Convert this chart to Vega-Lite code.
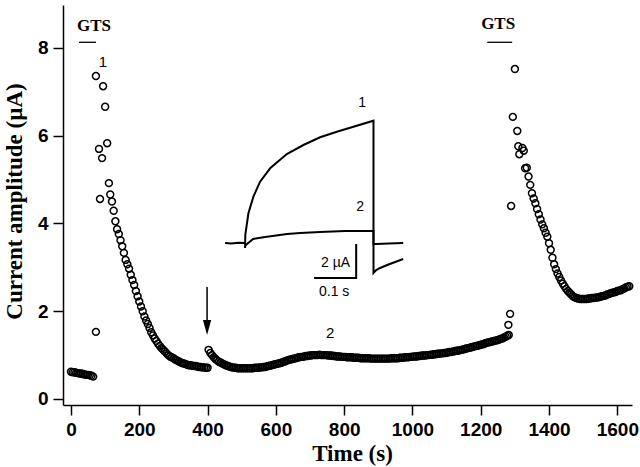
{
  "$schema": "https://vega.github.io/schema/vega-lite/v6.json",
  "width": 569,
  "height": 400,
  "autosize": "none",
  "padding": {"left": 63, "top": 5, "right": 8, "bottom": 62},
  "background": "white",
  "config": {
    "view": {"stroke": null},
    "axis": {
      "grid": false,
      "domainColor": "black",
      "domainWidth": 1.5,
      "tickColor": "black",
      "tickWidth": 1.5,
      "tickSize": 10,
      "labelFont": "Liberation Sans",
      "labelFontWeight": "bold",
      "labelFontSize": 19,
      "labelColor": "black",
      "titleFont": "Liberation Serif",
      "titleFontWeight": "bold",
      "titleFontSize": 23,
      "titleColor": "black"
    }
  },
  "datasets": {
    "pts": [
      {"t":0,"v":0.62},{"t":5,"v":0.61},{"t":10,"v":0.61},{"t":15,"v":0.60},{"t":20,"v":0.59},{"t":25,"v":0.58},{"t":30,"v":0.58},{"t":35,"v":0.57},{"t":40,"v":0.56},{"t":45,"v":0.55},{"t":50,"v":0.55},{"t":55,"v":0.54},{"t":60,"v":0.53},{"t":65,"v":0.51},
      {"t":73,"v":1.53},{"t":73,"v":7.36},{"t":94,"v":7.13},{"t":100,"v":6.66},{"t":106,"v":5.83},{"t":82,"v":5.70},{"t":91,"v":5.49},{"t":111,"v":4.92},{"t":85,"v":4.56},
      {"t":115,"v":4.66},{"t":120,"v":4.50},{"t":125,"v":4.29},{"t":130,"v":4.05},{"t":135,"v":3.87},{"t":140,"v":3.76},{"t":145,"v":3.62},{"t":150,"v":3.48},{"t":155,"v":3.33},{"t":160,"v":3.17},{"t":165,"v":3.07},{"t":170,"v":2.97},{"t":175,"v":2.83},{"t":180,"v":2.71},{"t":185,"v":2.60},{"t":190,"v":2.46},{"t":195,"v":2.34},{"t":200,"v":2.22},{"t":205,"v":2.11},{"t":210,"v":2.00},{"t":215,"v":1.88},{"t":220,"v":1.79},{"t":225,"v":1.71},{"t":230,"v":1.62},{"t":235,"v":1.52},{"t":240,"v":1.45},{"t":245,"v":1.38},{"t":250,"v":1.32},{"t":255,"v":1.26},{"t":260,"v":1.21},{"t":265,"v":1.16},{"t":270,"v":1.12},{"t":275,"v":1.08},{"t":280,"v":1.04},{"t":285,"v":1.00},{"t":290,"v":0.97},{"t":295,"v":0.95},{"t":300,"v":0.93},{"t":305,"v":0.90},{"t":310,"v":0.88},{"t":315,"v":0.86},{"t":320,"v":0.84},{"t":325,"v":0.82},{"t":330,"v":0.81},{"t":335,"v":0.80},{"t":340,"v":0.78},{"t":345,"v":0.77},{"t":350,"v":0.77},{"t":355,"v":0.76},{"t":360,"v":0.75},{"t":365,"v":0.75},{"t":370,"v":0.74},{"t":375,"v":0.73},{"t":380,"v":0.73},{"t":385,"v":0.72},{"t":390,"v":0.72},{"t":395,"v":0.71},{"t":400,"v":0.71},
      {"t":403,"v":1.12},{"t":408,"v":1.05},{"t":413,"v":1.00},{"t":418,"v":0.95},{"t":423,"v":0.91},{"t":428,"v":0.88},{"t":433,"v":0.85},{"t":438,"v":0.83},{"t":443,"v":0.81},{"t":448,"v":0.79},{"t":453,"v":0.77},{"t":458,"v":0.76},{"t":463,"v":0.74},{"t":468,"v":0.73},{"t":473,"v":0.72},{"t":478,"v":0.71},{"t":483,"v":0.71},{"t":488,"v":0.70},{"t":493,"v":0.70},{"t":498,"v":0.70},{"t":503,"v":0.70},{"t":508,"v":0.70},{"t":513,"v":0.70},{"t":518,"v":0.70},{"t":523,"v":0.70},{"t":528,"v":0.70},{"t":533,"v":0.70},{"t":538,"v":0.71},{"t":543,"v":0.71},{"t":548,"v":0.71},{"t":553,"v":0.72},{"t":558,"v":0.72},{"t":563,"v":0.73},{"t":568,"v":0.73},{"t":573,"v":0.74},{"t":578,"v":0.75},{"t":583,"v":0.76},{"t":588,"v":0.77},{"t":593,"v":0.78},{"t":598,"v":0.79},{"t":603,"v":0.80},{"t":608,"v":0.81},{"t":613,"v":0.82},{"t":618,"v":0.83},{"t":623,"v":0.85},{"t":628,"v":0.86},{"t":633,"v":0.88},{"t":638,"v":0.89},{"t":643,"v":0.90},{"t":648,"v":0.91},{"t":653,"v":0.92},{"t":658,"v":0.93},{"t":663,"v":0.94},{"t":668,"v":0.95},{"t":673,"v":0.96},{"t":678,"v":0.96},{"t":683,"v":0.97},{"t":688,"v":0.98},{"t":693,"v":0.98},{"t":698,"v":0.99},{"t":703,"v":0.99},{"t":708,"v":1.00},{"t":713,"v":1.00},{"t":718,"v":1.00},{"t":723,"v":1.00},{"t":728,"v":1.01},{"t":733,"v":1.00},{"t":738,"v":1.00},{"t":743,"v":1.00},{"t":748,"v":1.00},{"t":753,"v":0.99},{"t":758,"v":0.99},{"t":763,"v":0.99},{"t":768,"v":0.98},{"t":773,"v":0.98},{"t":778,"v":0.97},{"t":783,"v":0.97},{"t":788,"v":0.97},{"t":793,"v":0.96},{"t":798,"v":0.96},{"t":803,"v":0.96},{"t":808,"v":0.95},{"t":813,"v":0.95},{"t":818,"v":0.95},{"t":823,"v":0.95},{"t":828,"v":0.94},{"t":833,"v":0.94},{"t":838,"v":0.94},{"t":843,"v":0.94},{"t":848,"v":0.93},{"t":853,"v":0.93},{"t":858,"v":0.93},{"t":863,"v":0.93},{"t":868,"v":0.93},{"t":873,"v":0.93},{"t":878,"v":0.92},{"t":883,"v":0.92},{"t":888,"v":0.92},{"t":893,"v":0.92},{"t":898,"v":0.92},{"t":903,"v":0.92},{"t":908,"v":0.92},{"t":913,"v":0.92},{"t":918,"v":0.92},{"t":923,"v":0.92},{"t":928,"v":0.92},{"t":933,"v":0.92},{"t":938,"v":0.93},{"t":943,"v":0.93},{"t":948,"v":0.93},{"t":953,"v":0.93},{"t":958,"v":0.93},{"t":963,"v":0.94},{"t":968,"v":0.94},{"t":973,"v":0.94},{"t":978,"v":0.95},{"t":983,"v":0.95},{"t":988,"v":0.95},{"t":993,"v":0.96},{"t":998,"v":0.96},{"t":1003,"v":0.97},{"t":1008,"v":0.97},{"t":1013,"v":0.97},{"t":1018,"v":0.98},{"t":1023,"v":0.98},{"t":1028,"v":0.99},{"t":1033,"v":0.99},{"t":1038,"v":0.99},{"t":1043,"v":1.00},{"t":1048,"v":1.00},{"t":1053,"v":1.01},{"t":1058,"v":1.01},{"t":1063,"v":1.02},{"t":1068,"v":1.02},{"t":1073,"v":1.03},{"t":1078,"v":1.03},{"t":1083,"v":1.04},{"t":1088,"v":1.04},{"t":1093,"v":1.05},{"t":1098,"v":1.05},{"t":1103,"v":1.06},{"t":1108,"v":1.07},{"t":1113,"v":1.07},{"t":1118,"v":1.08},{"t":1123,"v":1.09},{"t":1128,"v":1.10},{"t":1133,"v":1.10},{"t":1138,"v":1.11},{"t":1143,"v":1.12},{"t":1148,"v":1.13},{"t":1153,"v":1.14},{"t":1158,"v":1.15},{"t":1163,"v":1.16},{"t":1168,"v":1.17},{"t":1173,"v":1.18},{"t":1178,"v":1.19},{"t":1183,"v":1.20},{"t":1188,"v":1.21},{"t":1193,"v":1.22},{"t":1198,"v":1.23},{"t":1203,"v":1.24},{"t":1208,"v":1.25},{"t":1213,"v":1.27},{"t":1218,"v":1.28},{"t":1223,"v":1.29},{"t":1228,"v":1.30},{"t":1233,"v":1.31},{"t":1238,"v":1.32},{"t":1243,"v":1.33},{"t":1248,"v":1.34},{"t":1253,"v":1.35},{"t":1258,"v":1.37},{"t":1263,"v":1.38},{"t":1268,"v":1.40},{"t":1273,"v":1.42},{"t":1278,"v":1.44},{"t":1282,"v":1.46},
      {"t":1281,"v":1.69},{"t":1286,"v":1.94},
      {"t":1289,"v":4.40},{"t":1300,"v":7.52},{"t":1294,"v":6.43},{"t":1307,"v":6.11},{"t":1310,"v":5.76},{"t":1322,"v":5.72},{"t":1313,"v":5.58},{"t":1326,"v":5.66},{"t":1330,"v":5.26},{"t":1335,"v":5.27},
      {"t":1340,"v":5.07},{"t":1345,"v":4.88},{"t":1350,"v":4.69},{"t":1355,"v":4.57},{"t":1360,"v":4.46},{"t":1365,"v":4.33},{"t":1370,"v":4.21},{"t":1375,"v":4.09},{"t":1380,"v":3.98},{"t":1385,"v":3.89},{"t":1390,"v":3.79},{"t":1395,"v":3.70},{"t":1400,"v":3.55},{"t":1405,"v":3.40},{"t":1410,"v":3.22},{"t":1415,"v":3.07},{"t":1420,"v":2.96},{"t":1425,"v":2.86},{"t":1430,"v":2.78},{"t":1435,"v":2.70},{"t":1440,"v":2.63},{"t":1445,"v":2.57},{"t":1450,"v":2.51},{"t":1455,"v":2.46},{"t":1460,"v":2.42},{"t":1465,"v":2.38},{"t":1470,"v":2.34},{"t":1475,"v":2.32},{"t":1480,"v":2.30},{"t":1485,"v":2.29},{"t":1490,"v":2.28},{"t":1495,"v":2.28},{"t":1500,"v":2.28},{"t":1505,"v":2.28},{"t":1510,"v":2.28},{"t":1515,"v":2.29},{"t":1520,"v":2.29},{"t":1525,"v":2.30},{"t":1530,"v":2.30},{"t":1535,"v":2.31},{"t":1540,"v":2.31},{"t":1545,"v":2.32},{"t":1550,"v":2.33},{"t":1555,"v":2.34},{"t":1560,"v":2.35},{"t":1565,"v":2.36},{"t":1570,"v":2.38},{"t":1575,"v":2.39},{"t":1580,"v":2.41},{"t":1585,"v":2.42},{"t":1590,"v":2.43},{"t":1595,"v":2.44},{"t":1600,"v":2.46},{"t":1605,"v":2.47},{"t":1610,"v":2.48},{"t":1615,"v":2.50},{"t":1620,"v":2.52},{"t":1625,"v":2.54},{"t":1630,"v":2.56},{"t":1635,"v":2.57}
    ],
    "traces": [
      {"s":"1","i":0,"t":451.3,"v":3.556},{"s":"1","i":1,"t":470,"v":3.545},{"s":"1","i":2,"t":490,"v":3.56},{"s":"1","i":3,"t":509.9,"v":3.556},{"s":"1","i":4,"t":509.9,"v":3.44},{"s":"1","i":5,"t":510.5,"v":3.74},{"s":"1","i":6,"t":519.6,"v":4.232},{"s":"1","i":7,"t":534.2,"v":4.611},{"s":"1","i":8,"t":553.8,"v":4.953},{"s":"1","i":9,"t":583.2,"v":5.258},{"s":"1","i":10,"t":632.1,"v":5.584},{"s":"1","i":11,"t":680.7,"v":5.789},{"s":"1","i":12,"t":729.7,"v":5.965},{"s":"1","i":13,"t":778.6,"v":6.092},{"s":"1","i":14,"t":827.2,"v":6.206},{"s":"1","i":15,"t":885.9,"v":6.343},{"s":"1","i":16,"t":885.9,"v":2.872},{"s":"1","i":17,"t":893.8,"v":2.94},{"s":"1","i":18,"t":905.5,"v":2.986},{"s":"1","i":19,"t":926,"v":3.054},{"s":"1","i":20,"t":949.5,"v":3.123},{"s":"1","i":21,"t":972.9,"v":3.191},
      {"s":"2","i":0,"t":510.5,"v":3.5},{"s":"2","i":1,"t":533.3,"v":3.647},{"s":"2","i":2,"t":568.5,"v":3.692},{"s":"2","i":3,"t":633,"v":3.761},{"s":"2","i":4,"t":671.1,"v":3.783},{"s":"2","i":5,"t":729.7,"v":3.806},{"s":"2","i":6,"t":803,"v":3.829},{"s":"2","i":7,"t":885.9,"v":3.829},{"s":"2","i":8,"t":885.9,"v":3.533},{"s":"2","i":9,"t":893.8,"v":3.533},{"s":"2","i":10,"t":930,"v":3.545},{"s":"2","i":11,"t":972.9,"v":3.556},
      {"s":"bar","i":0,"t":712.1,"v":2.758},{"s":"bar","i":1,"t":835.2,"v":2.758},{"s":"bar","i":2,"t":835.2,"v":3.533}
    ]
  },
  "encoding": {
    "x": {"field": "t", "type": "quantitative", "scale": {"domain": [-23.4, 1643], "nice": false, "zero": false},
      "axis": {"title": "Time (s)", "format": "d", "values": [0,200,400,600,800,1000,1200,1400,1600], "labelPadding": 5, "titleX": 289, "titleY": 55, "titleBaseline": "alphabetic", "titleAlign": "center"}},
    "y": {"field": "v", "type": "quantitative", "scale": {"domain": [-0.137, 8.98], "nice": false, "zero": false},
      "axis": {"title": "Current amplitude (µA)", "values": [0,2,4,6,8], "labelPadding": 5, "titleX": -49, "titleY": 196, "titleBaseline": "middle", "titleAlign": "center", "titleAngle": -90}}
  },
  "layer": [
    {
      "data": {"name": "pts"},
      "mark": {"type": "point", "shape": "circle", "filled": false, "size": 48, "strokeWidth": 1.5, "color": "black", "opacity": 1}
    },
    {
      "data": {"name": "traces"},
      "mark": {"type": "line", "color": "black", "strokeWidth": 2},
      "encoding": {"detail": {"field": "s"}, "order": {"field": "i", "type": "quantitative"}}
    },
    {
      "data": {"values": [{"t": 23.4, "t2": 73.3, "v": 8.13}, {"t": 1219, "t2": 1292, "v": 8.13}]},
      "mark": {"type": "rule", "color": "black", "strokeWidth": 1.3},
      "encoding": {"x2": {"field": "t2"}}
    },
    {
      "data": {"values": [{"t": 398.5, "v": 2.553, "v2": 1.75}]},
      "mark": {"type": "rule", "color": "black", "strokeWidth": 1.5},
      "encoding": {"y2": {"field": "v2"}}
    },
    {
      "data": {"values": [{"t": 398.5, "v": 1.63}]},
      "mark": {"type": "point", "shape": "M-0.55,-1L0.55,-1L0,1Z", "filled": true, "size": 225, "color": "black", "opacity": 1}
    },
    {
      "data": {"values": [{"t": 67.4, "v": 8.49, "txt": "GTS"}, {"t": 1251, "v": 8.55, "txt": "GTS"}]},
      "mark": {"type": "text", "font": "Liberation Serif", "fontWeight": "bold", "fontSize": 17, "baseline": "middle", "align": "center", "color": "black"},
      "encoding": {"text": {"field": "txt"}}
    },
    {
      "data": {"values": [{"t": 93.8, "v": 7.68, "txt": "1"}, {"t": 759, "v": 1.5, "txt": "2"}]},
      "mark": {"type": "text", "font": "Liberation Sans", "fontSize": 15, "baseline": "middle", "align": "center", "color": "black"},
      "encoding": {"text": {"field": "txt"}}
    },
    {
      "data": {"values": [{"t": 852.7, "v": 6.746, "txt": "1"}, {"t": 846.9, "v": 4.376, "txt": "2"}, {"t": 770.7, "v": 2.439, "txt": "0.1 s"}]},
      "mark": {"type": "text", "font": "Liberation Sans", "fontSize": 14, "baseline": "middle", "align": "center", "color": "black"},
      "encoding": {"text": {"field": "txt"}}
    },
    {
      "data": {"values": [{"t": 817.6, "v": 3.1, "txt": "2 µA"}]},
      "mark": {"type": "text", "font": "Liberation Sans", "fontSize": 14, "baseline": "middle", "align": "right", "color": "black"},
      "encoding": {"text": {"field": "txt"}}
    }
  ]
}
